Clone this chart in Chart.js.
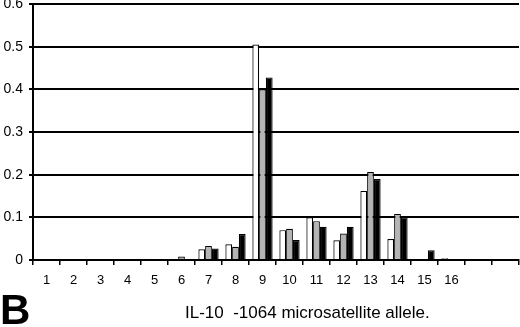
<!DOCTYPE html>
<html>
<head>
<meta charset="utf-8">
<script src="https://cdn.jsdelivr.net/npm/chart.js@4/dist/chart.umd.min.js"></script>
<style>
  html, body { margin: 0; padding: 0; background: #fff; }
  #wrap { position: relative; width: 520px; height: 327px; }
  #panel { position: absolute; left: 0; top: 290px; font: bold 42px "Liberation Sans", Arial, sans-serif; color: #000; line-height: 40px; }
  #xtitle { position: absolute; left: 185px; top: 303px; font: 17px "Liberation Sans", Arial, sans-serif; color: #000; }
</style>
</head>
<body>
<div id="wrap">
  <canvas id="chart" width="520" height="327"></canvas>
  <div id="panel">B</div>
  <div id="xtitle">IL-10&nbsp;&nbsp;-1064 microsatellite allele.</div>
</div>
<script>
const categories = ["1", "2", "3", "4", "5", "6", "7", "8", "9", "10", "11", "12", "13", "14", "15", "16", "", ""];
const whiteSeries = [0.003, 0, 0, 0, 0.003, 0, 0.025, 0.037, 0.505, 0.070, 0.100, 0.046, 0.162, 0.049, 0, 0.004, 0, 0];
const graySeries = [0, 0, 0, 0, 0, 0.008, 0.033, 0.031, 0.400, 0.073, 0.091, 0.062, 0.206, 0.108, 0.002, 0, 0, 0];
const blackSeries = [0, 0, 0, 0, 0, 0, 0.027, 0.061, 0.428, 0.047, 0.078, 0.078, 0.190, 0.100, 0.023, 0, 0, 0];
const yTicks = [0, 0.1, 0.2, 0.3, 0.4, 0.5, 0.6];

const bar = (data, fill) => ({
  data,
  backgroundColor: fill,
  borderColor: "#000",
  borderWidth: 1.2,
  categoryPercentage: 0.75,
  barPercentage: 1,
});

new Chart(document.getElementById("chart"), {
  type: "bar",
  data: {
    labels: categories,
    datasets: [bar(whiteSeries, "#fff"), bar(graySeries, "#b4b4b4"), bar(blackSeries, "#000")],
  },
  options: {
    responsive: false,
    animation: false,
    layout: { padding: { top: 4, right: 1, left: 0, bottom: 0 } },
    plugins: { legend: { display: false }, tooltip: { enabled: false } },
    scales: {
      x: {
        grid: { display: true, drawOnChartArea: false, color: "#000", lineWidth: 1.5, tickLength: 5, offset: true },
        border: { color: "#000", width: 2 },
        ticks: { color: "#000", font: { family: "Liberation Sans, Arial", size: 13 }, padding: 8, maxRotation: 0, autoSkip: false },
        afterFit: (scale) => { scale.height = 67; },
      },
      y: {
        min: 0,
        max: 0.6,
        afterBuildTicks: (scale) => { scale.ticks = yTicks.map((v) => ({ value: v })); },
        grid: { color: "#000", lineWidth: 2, tickLength: 4 },
        border: { color: "#000", width: 2 },
        ticks: { color: "#000", font: { family: "Liberation Sans, Arial", size: 14 }, padding: 6 },
        afterFit: (scale) => {
          scale.width = 33;
          scale.paddingTop = 0;
        },
      },
    },
  },
});
</script>
</body>
</html>
